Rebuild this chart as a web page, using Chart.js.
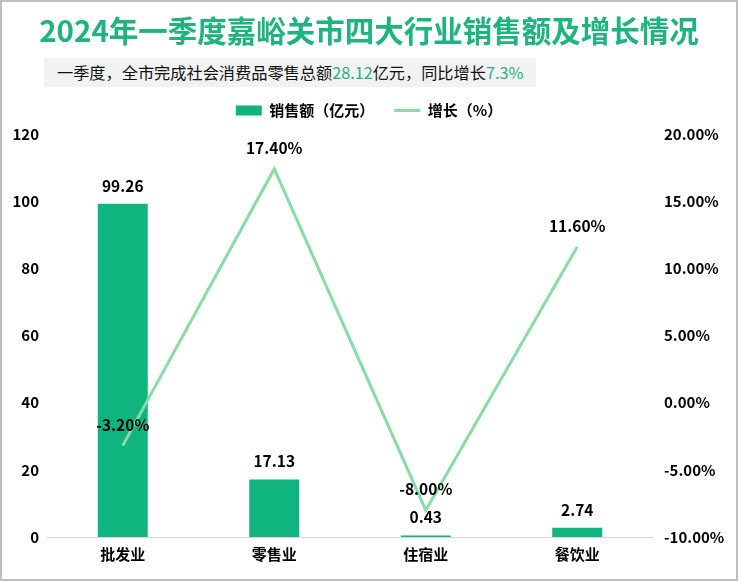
<!DOCTYPE html>
<html><head><meta charset="utf-8">
<script src="https://cdn.jsdelivr.net/npm/chart.js@4"></script>
<style>
html,body{margin:0;padding:0;background:#fff;}
#wrap{position:relative;width:738px;height:581px;box-sizing:border-box;border:2px solid #bfbfbf;background:#fff;overflow:hidden;font-family:"Noto Sans CJK SC","Noto Sans",sans-serif;}
#title{position:absolute;left:0;width:734px;top:7px;text-align:center;font-size:29.5px;font-weight:bold;color:#1db47f;line-height:40px;}
#sub{position:absolute;left:42px;top:56px;width:492px;height:29px;background:#f2f2f2;font-size:16.2px;line-height:29px;color:#111;padding-left:13px;box-sizing:border-box;white-space:nowrap;}
#sub b{font-weight:normal;color:#1db47f;}
canvas{position:absolute;left:0;top:0;}
</style></head>
<body><div id="wrap">
<canvas id="c" width="734" height="577"></canvas>
<div id="title">2024年一季度嘉峪关市四大行业销售额及增长情况</div>
<div id="sub">一季度，全市完成社会消费品零售总额<b>28.12</b>亿元，同比增长<b>7.3%</b></div>
</div>
<script>
const categories = ['批发业','零售业','住宿业','餐饮业'];
const sales = [99.26, 17.13, 0.43, 2.74];
const growth = [-3.2, 17.4, -8.0, 11.6];
const leftTicks = [0,20,40,60,80,100,120];
const rightTicks = [-10,-5,0,5,10,15,20];

const BAR = '#10b47f', LINE = '#88dca4';
const FONT = '"Noto Sans CJK SC","Noto Sans",sans-serif';

const labelPlugin = {
  id:'labels',
  afterInit(chart){
    const lg = chart.legend;
    if (lg && !lg._patched) {
      const orig = lg.fit;
      lg.fit = function(){ orig.call(this); this.height += 6; };
      lg._patched = true;
    }
  },
  afterDatasetsDraw(chart){
    const ctx = chart.ctx;
    ctx.save();
    ctx.font = 'bold 15.5px ' + FONT;
    ctx.fillStyle = '#000';
    ctx.textAlign = 'center';
    ctx.textBaseline = 'middle';
    chart.getDatasetMeta(0).data.forEach((el,i)=>{
      ctx.fillText(sales[i].toFixed(2), el.x, el.y - 18);
    });
    chart.getDatasetMeta(1).data.forEach((el,i)=>{
      ctx.fillText(growth[i].toFixed(2)+'%', el.x, el.y - 21);
    });
    ctx.restore();
  }
};

new Chart(document.getElementById('c'), {
  data:{
    labels:categories,
    datasets:[
      {type:'bar',label:'销售额（亿元）',data:sales,backgroundColor:BAR,yAxisID:'y',order:2,barPercentage:0.33,categoryPercentage:1},
      {type:'line',label:'增长（%）',data:growth,borderColor:LINE,backgroundColor:LINE,borderWidth:3,pointRadius:0,tension:0,yAxisID:'y1',order:1}
    ]
  },
  options:{
    responsive:false,animation:false,
    layout:{padding:{top:81,left:0,right:0,bottom:0}},
    plugins:{
      tooltip:{enabled:false},
      legend:{position:'top',
        labels:{usePointStyle:true,pointStyleWidth:26,boxWidth:26,boxHeight:10,padding:20,color:'#000',
          font:{family:FONT,size:15,weight:'bold'},
          generateLabels(chart){
            return chart.data.datasets.map((d,i)=>({
              text:d.label,datasetIndex:i,
              fillStyle:d.type==='bar'?BAR:LINE,
              strokeStyle:d.type==='bar'?BAR:LINE,
              lineWidth:d.type==='bar'?0:3,
              pointStyle:d.type==='bar'?'rect':'line',
              hidden:false
            }));
          }
        }
      }
    },
    scales:{
      x:{grid:{display:false,drawTicks:false},border:{display:true,color:'#d9d9d9',width:1},
        ticks:{color:'#000',padding:8,font:{family:FONT,size:15,weight:'bold'}},
        afterFit(s){s.height=42;}},
      y:{position:'left',min:0,max:120,
        afterBuildTicks(s){s.ticks=leftTicks.map(v=>({value:v}));},
        grid:{display:false,drawTicks:false},border:{display:false},
        ticks:{color:'#000',padding:8,font:{family:FONT,size:15,weight:'bold'}},
        afterFit(s){s.width=45;}},
      y1:{position:'right',min:-10,max:20,
        afterBuildTicks(s){s.ticks=rightTicks.map(v=>({value:v}));},
        grid:{display:false,drawTicks:false},border:{display:false},
        ticks:{color:'#000',padding:11,font:{family:FONT,size:15,weight:'bold'},callback:v=>v.toFixed(2)+'%'},
        afterFit(s){s.width=83;}}
    }
  },
  plugins:[labelPlugin]
});
</script>
</body></html>
